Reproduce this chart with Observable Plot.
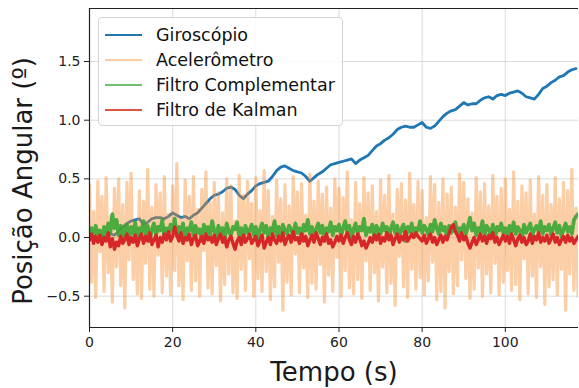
<!DOCTYPE html>
<html>
<head>
<meta charset="utf-8">
<script src="https://cdn.jsdelivr.net/npm/d3@7"></script>
<script src="https://cdn.jsdelivr.net/npm/@observablehq/plot@0.6"></script>
<style>
  body { margin: 0; background: #fff; }
  #wrap { position: relative; width: 579px; height: 388px; overflow: hidden; font-family: "DejaVu Sans", sans-serif; }
  #legend { position: absolute; left: 98px; top: 17px; width: 245px; height: 109px; background: rgba(255,255,255,0.85); border: 1px solid #d4d4d4; border-radius: 4px; box-sizing: border-box; }
  .row { position: absolute; left: 0; height: 25px; display: flex; align-items: center; font-size: 17.5px; color: #111; }
  .sw { width: 37px; height: 0; border-top: 2.5px solid; margin-left: 6px; margin-right: 14px; }
</style>
</head>
<body>
<div id="wrap"><div id="chart"></div><div id="legend"></div></div>
<script>
// Series labels and colors
const seriesNames = ["Giroscópio", "Acelerômetro", "Filtro Complementar", "Filtro de Kalman"];
const seriesColors = ["#1f77b4", "#ffcc9f", "#2ca02c", "#d62728"];

// Ticks
const xTicks = [0, 20, 40, 60, 80, 100];
const yTicks = [-0.5, 0.0, 0.5, 1.0, 1.5];
const xDomain = [0, 117.6];
const yDomain = [-0.767, 1.952];

// Gyroscope (1 s step)
const gyroStep = 1;
const gyro = [0.00,0.01,-0.01,0.02,0.00,0.03,0.02,0.05,0.09,0.12,
0.14,0.15,0.16,0.11,0.13,0.16,0.17,0.17,0.16,0.18,
0.21,0.19,0.17,0.18,0.16,0.19,0.21,0.25,0.29,0.33,
0.36,0.37,0.39,0.42,0.43,0.41,0.36,0.33,0.37,0.40,
0.44,0.46,0.47,0.48,0.52,0.57,0.60,0.61,0.59,0.57,
0.56,0.55,0.52,0.48,0.51,0.54,0.56,0.59,0.62,0.63,
0.64,0.65,0.66,0.67,0.63,0.66,0.68,0.70,0.74,0.78,
0.80,0.83,0.85,0.88,0.92,0.94,0.95,0.94,0.94,0.96,
0.98,0.94,0.93,0.95,0.99,1.03,1.06,1.08,1.09,1.12,
1.15,1.13,1.14,1.14,1.17,1.19,1.20,1.18,1.21,1.22,
1.21,1.23,1.24,1.25,1.23,1.20,1.19,1.18,1.22,1.27,
1.29,1.32,1.34,1.37,1.38,1.41,1.43,1.44];

// Accelerometer, complementary and Kalman (0.5 s step)
const fastStep = 0.5;
const accel = [0.45,-0.38,0.22,-0.51,0.48,-0.12,0.35,-0.46,0.51,-0.30,0.18,-0.55,0.42,-0.25,0.50,-0.41,0.28,-0.60,0.47,-0.19,
0.55,-0.36,0.12,-0.48,0.40,-0.52,0.31,-0.22,0.58,-0.44,0.26,-0.50,0.45,-0.15,0.38,-0.47,0.52,-0.33,0.20,-0.49,
0.44,-0.28,0.63,-0.41,0.16,-0.53,0.49,-0.20,0.35,-0.45,0.52,-0.37,0.24,-0.50,0.41,-0.11,0.56,-0.43,0.30,-0.48,
0.47,-0.24,0.38,-0.54,0.21,-0.40,0.50,-0.31,0.44,-0.47,0.14,-0.52,0.53,-0.27,0.36,-0.45,0.48,-0.18,0.29,-0.50,
0.51,-0.35,0.23,-0.46,0.57,-0.29,0.40,-0.53,0.18,-0.42,0.49,-0.21,0.33,-0.62,0.45,-0.38,0.27,-0.49,0.52,-0.14,
0.39,-0.47,0.46,-0.26,0.19,-0.51,0.54,-0.39,0.31,-0.44,0.48,-0.23,0.37,-0.55,0.43,-0.32,0.25,-0.46,0.50,-0.17,
0.42,-0.50,0.34,-0.28,0.56,-0.43,0.15,-0.48,0.47,-0.36,0.29,-0.52,0.51,-0.20,0.38,-0.45,0.44,-0.30,0.22,-0.54,
0.49,-0.25,0.36,-0.47,0.53,-0.39,0.20,-0.58,0.41,-0.16,0.46,-0.42,0.32,-0.51,0.55,-0.27,0.28,-0.44,0.48,-0.34,
0.40,-0.49,0.17,-0.37,0.52,-0.21,0.45,-0.53,0.30,-0.46,0.50,-0.60,0.37,-0.29,0.43,-0.48,0.26,-0.41,0.54,-0.19,
0.47,-0.35,0.33,-0.52,0.21,-0.44,0.51,-0.26,0.39,-0.50,0.46,-0.31,0.27,-0.47,0.53,-0.22,0.35,-0.49,0.42,-0.38,
0.50,-0.28,0.24,-0.45,0.56,-0.40,0.31,-0.53,0.44,-0.18,0.38,-0.48,0.49,-0.33,0.20,-0.51,0.52,-0.25,0.36,-0.57,
0.45,-0.42,0.28,-0.36,0.51,-0.49,0.33,-0.27,0.47,-0.62,0.40,-0.31,0.58,-0.45,0.25,-0.50];

const compl = [0.02,0.08,-0.03,0.10,0.01,0.06,-0.05,0.09,0.03,0.12,0.04,0.20,0.08,0.15,0.02,0.10,-0.04,0.07,0.11,0.00,
0.09,0.03,0.13,-0.02,0.08,0.05,0.14,0.01,0.10,-0.03,0.07,0.12,0.02,0.09,0.06,0.15,0.00,0.08,0.04,0.11,
0.05,0.16,0.01,0.09,0.03,0.12,-0.02,0.08,0.06,0.13,0.02,0.10,0.04,0.07,-0.03,0.11,0.05,0.09,0.01,0.14,
0.06,0.00,0.10,0.03,0.08,-0.04,0.12,0.05,0.02,0.09,0.07,0.13,0.01,0.08,-0.02,0.10,0.04,0.06,0.11,0.02,
0.09,-0.03,0.07,0.12,0.04,0.10,0.00,0.08,0.05,0.14,0.02,0.09,-0.01,0.11,0.06,0.03,0.10,0.07,0.01,0.12,
0.04,0.08,-0.02,0.11,0.06,0.15,0.03,0.09,0.00,0.07,0.12,0.04,0.10,-0.03,0.08,0.05,0.13,0.02,0.09,0.06,
0.11,0.01,0.08,0.14,0.04,0.10,-0.02,0.07,0.12,0.03,0.09,0.06,0.16,0.02,0.08,0.05,0.11,0.00,0.10,0.07,
0.03,0.12,0.06,0.09,-0.01,0.08,0.13,0.04,0.10,0.02,0.07,0.11,-0.03,0.09,0.05,0.12,0.01,0.08,0.06,0.14,
0.04,0.10,0.07,0.02,0.11,0.05,0.15,0.08,0.03,0.12,0.06,0.09,0.00,0.10,0.04,0.07,0.13,0.02,0.08,0.05,
0.11,0.03,0.09,0.17,0.06,0.12,0.02,0.08,0.05,0.14,0.01,0.10,0.07,0.03,0.11,-0.02,0.09,0.06,0.12,0.04,
0.08,0.01,0.10,0.05,0.13,0.03,0.09,0.06,-0.01,0.11,0.04,0.08,0.12,0.02,0.07,0.10,0.05,0.14,0.03,0.09,
0.06,0.11,0.02,0.08,0.13,0.04,0.10,0.01,0.07,0.12,0.05,0.09,0.03,0.15,0.18,0.20];

const kalman = [-0.02,0.03,-0.05,0.01,-0.04,0.02,-0.06,0.00,-0.03,0.04,-0.08,-0.01,-0.10,-0.04,-0.07,0.01,-0.05,-0.02,0.03,-0.06,
0.00,-0.04,0.02,-0.07,-0.01,0.03,-0.05,0.01,-0.03,0.04,-0.06,-0.02,0.02,-0.08,0.00,-0.04,0.03,-0.02,0.05,-0.03,
0.01,0.09,0.02,-0.03,0.04,-0.05,0.00,-0.02,0.03,-0.06,-0.01,0.02,-0.07,-0.03,0.01,-0.05,0.03,-0.02,0.00,-0.04,
0.02,-0.06,-0.01,0.03,-0.04,0.00,-0.08,-0.02,0.01,-0.05,-0.10,-0.03,0.00,-0.06,0.02,-0.04,-0.01,0.03,-0.05,-0.02,
0.01,-0.07,-0.03,0.02,-0.09,-0.04,0.00,-0.06,0.03,-0.02,-0.05,0.01,-0.03,0.04,-0.06,-0.01,0.02,-0.04,0.05,-0.02,
0.00,-0.05,0.03,-0.03,0.01,-0.07,-0.02,0.02,-0.04,0.04,-0.01,-0.06,0.00,-0.03,0.03,-0.05,-0.02,-0.08,-0.04,0.01,
-0.03,0.02,-0.05,0.00,0.04,-0.02,-0.06,0.01,-0.04,0.03,-0.01,-0.07,-0.03,-0.09,-0.05,0.00,-0.04,0.02,-0.02,0.03,
-0.05,0.00,-0.03,0.04,-0.02,0.02,-0.06,-0.01,0.03,-0.04,0.01,-0.02,0.05,-0.03,0.00,0.03,0.00,0.04,0.01,-0.01,
-0.03,0.02,-0.05,-0.01,0.03,-0.04,0.00,-0.06,-0.02,0.02,-0.04,0.01,-0.02,0.04,0.09,0.11,0.05,0.02,-0.03,0.04,
-0.02,0.01,-0.05,-0.09,-0.04,0.00,-0.06,-0.02,0.03,-0.03,0.01,-0.05,0.02,-0.01,0.04,-0.04,0.00,-0.06,-0.02,0.02,
-0.03,0.01,-0.05,0.03,-0.02,-0.07,-0.01,0.02,-0.04,0.00,-0.06,-0.03,0.03,-0.05,0.01,-0.02,0.04,-0.04,0.00,-0.03,
0.02,-0.05,-0.01,0.03,-0.04,0.00,-0.06,-0.02,0.01,-0.04,0.02,-0.03,0.00,-0.05,-0.02,0.01];

const toPts = (arr, step) => arr.map((v, i) => ({t: i * step, v}));
const gyroPts = toPts(gyro, gyroStep);
const accelPts = toPts(accel, fastStep);
const complPts = toPts(compl, fastStep);
const kalmanPts = toPts(kalman, fastStep);

const font = "DejaVu Sans, sans-serif";

const chart = Plot.plot({
  width: 579,
  height: 388,
  marginLeft: 89,
  marginRight: 1,
  marginTop: 8,
  marginBottom: 61,
  style: {fontFamily: font, background: "transparent", color: "#222"},
  x: {domain: xDomain, axis: null},
  y: {domain: yDomain, axis: null},
  marks: [
    Plot.gridX(xTicks.slice(1), {stroke: "#b0b0b0", strokeOpacity: 0.45}),
    Plot.gridY(yTicks, {stroke: "#b0b0b0", strokeOpacity: 0.45}),
    Plot.line(gyroPts, {x: "t", y: "v", stroke: seriesColors[0], strokeWidth: 2.8, clip: true}),
    Plot.line(accelPts, {x: "t", y: "v", stroke: "#f98a2a", strokeOpacity: 0.42, strokeWidth: 3.2, clip: true}),
    Plot.line(complPts, {x: "t", y: "v", stroke: "#3aa633", strokeOpacity: 0.9, strokeWidth: 3.8, clip: true}),
    Plot.line(kalmanPts, {x: "t", y: "v", stroke: seriesColors[3], strokeWidth: 3.4, clip: true}),
    Plot.ruleX([xDomain[0]], {stroke: "#222", strokeWidth: 1.2}),
    Plot.ruleY([yDomain[0], yDomain[1]], {stroke: "#222", strokeWidth: 1.2}),
    Plot.axisX({ticks: xTicks, tickFormat: d3.format("d"), fontSize: 14, tickSize: 5, tickPadding: 5, label: null, stroke: "#222"}),
    Plot.axisY({ticks: yTicks, tickFormat: d3.format(".1f"), fontSize: 14, tickSize: 5, tickPadding: 4, label: null, stroke: "#222"}),
    Plot.text(["Tempo (s)"], {frameAnchor: "bottom", dy: 53, fontSize: 26, fill: "#1a1a1a"}),
    Plot.text(["Posição Angular (º)"], {frameAnchor: "left", textAnchor: "middle", rotate: -90, dx: -66, dy: 13, fontSize: 26, fill: "#1a1a1a"})
  ]
});
document.getElementById("chart").appendChild(chart);

// Legend
const legend = document.getElementById("legend");
const legendColors = ["#1f77b4", "#ffcc9f", "#6fbf6f", "#e0533f"];
seriesNames.forEach((name, i) => {
  const row = document.createElement("div");
  row.className = "row";
  row.style.top = (4 + i * 25.3) + "px";
  const sw = document.createElement("span");
  sw.className = "sw";
  sw.style.borderTopColor = legendColors[i];
  const lab = document.createElement("span");
  lab.textContent = name;
  row.appendChild(sw);
  row.appendChild(lab);
  legend.appendChild(row);
});
</script>
</body>
</html>
